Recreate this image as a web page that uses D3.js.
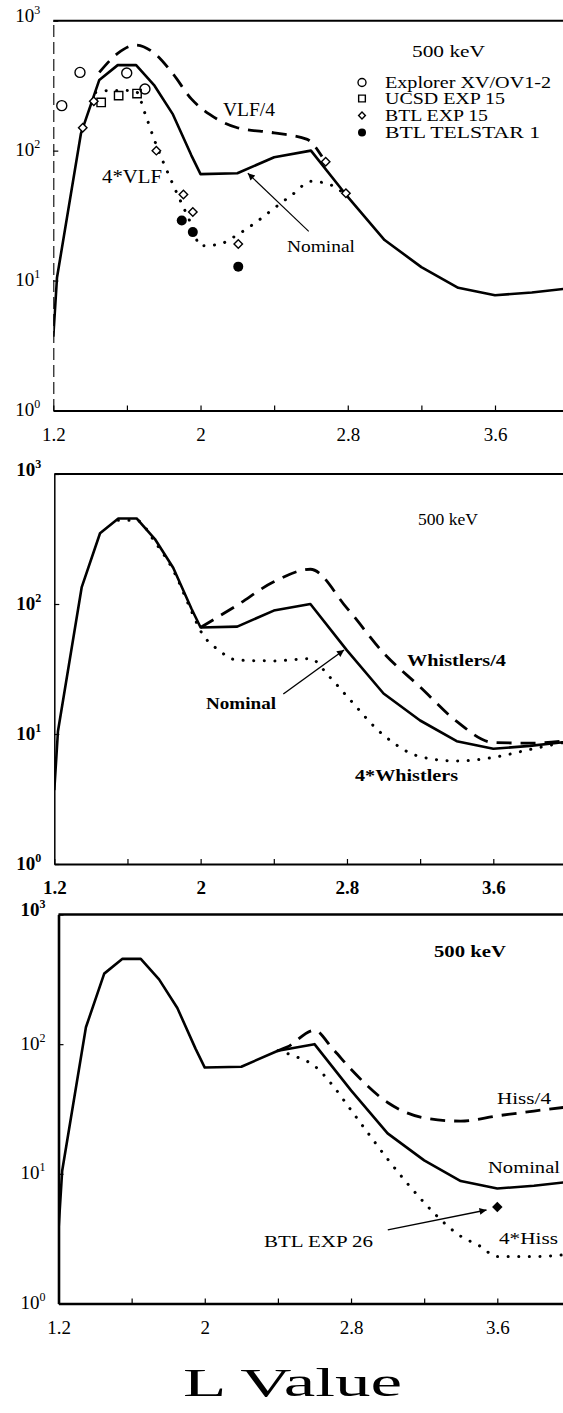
<!DOCTYPE html>
<html>
<head>
<meta charset="utf-8">
<script src="https://cdn.jsdelivr.net/npm/d3@7/dist/d3.min.js"></script>
<style>
  body { margin: 0; background: #fff; }
  svg { display: block; font-family: 'Liberation Serif', 'DejaVu Serif', serif; }
</style>
</head>
<body>
<div class="graph"></div>
<script>
// ---- data (L value, flux) ----
const X_TICKS = [1.2, 1.6, 2.0, 2.4, 2.8, 3.2, 3.6, 4.0];
const X_TICK_LABELS = ['1.2', '2', '2.8', '3.6'];
const Y_TICKS = [1, 10, 100, 1000];
const Y_EXPONENTS = ['0', '1', '2', '3'];

const L_NOM = [1.2, 1.22, 1.35, 1.45, 1.55, 1.65, 1.75, 1.85, 1.95, 2.0, 2.2, 2.4, 2.6, 2.8, 3.0, 3.2, 3.4, 3.6, 3.8, 4.0];
const NOMINAL = [3.7, 10.5, 135, 350, 455, 455, 316, 190, 92, 66, 67, 89, 100, 44, 20.5, 12.7, 8.8, 7.7, 8.1, 8.7];

const L_VLF4 = [1.45, 1.55, 1.65, 1.75, 1.85, 1.95, 2.05, 2.2, 2.4, 2.58, 2.66];
const VLF_DIV4 = [400, 560, 650, 560, 390, 250, 190, 150, 137, 122, 90];

const L_4VLF = [1.43, 1.5, 1.6, 1.65, 1.7, 1.75, 1.85, 1.95, 2.0, 2.1, 2.2, 2.3, 2.4, 2.5, 2.6, 2.7, 2.8];
const VLF_X4 = [280, 290, 290, 285, 190, 120, 55, 27, 18.5, 19, 22.5, 28, 36, 46, 58, 55, 44];

const L_WH4 = [2.0, 2.2, 2.4, 2.6, 2.8, 3.0, 3.2, 3.4, 3.6, 3.8, 4.0];
const WHISTLERS_DIV4 = [66, 98, 148, 185, 93, 42, 23, 12.5, 8.6, 8.5, 8.9];

const L_4WH = [1.55, 1.65, 1.75, 1.85, 1.95, 2.0, 2.1, 2.2, 2.4, 2.6, 2.7, 2.8, 3.0, 3.2, 3.4, 3.6, 3.8, 4.0];
const WHISTLERS_X4 = [440, 440, 300, 182, 88, 62, 44, 37, 36.5, 38, 28, 19.5, 9.8, 6.7, 6.2, 6.6, 7.6, 8.7];

const L_HISS4 = [2.4, 2.45, 2.6, 2.7, 2.8, 3.0, 3.2, 3.4, 3.6, 3.8, 4.0];
const HISS_DIV4 = [89, 95, 128, 92, 64, 35.5, 27, 25.5, 28, 30.5, 33];

const L_4HISS = [2.4, 2.5, 2.6, 2.7, 2.8, 2.9, 3.0, 3.1, 3.2, 3.3, 3.4, 3.5, 3.6, 3.8, 4.0];
const HISS_X4 = [89, 80, 68, 48, 31, 20, 13, 8.7, 6.0, 4.3, 3.3, 2.8, 2.3, 2.3, 2.4];

// measurements (panel 1) and BTL EXP 26 (panel 3)
const EXPLORER_L = [1.246, 1.345, 1.599, 1.698];
const EXPLORER_V = [222, 400, 396, 298];
const UCSD_L = [1.46, 1.555, 1.655];
const UCSD_V = [235, 265, 275];
const BTL15_L = [1.36, 1.42, 1.76, 1.907, 1.958, 2.205, 2.68, 2.79];
const BTL15_V = [150, 240, 100, 46, 33.7, 19.1, 82, 47];
const TELSTAR_L = [1.898, 1.958, 2.205];
const TELSTAR_V = [29, 23.6, 12.8];
const BTL26_L = [3.6];
const BTL26_V = [5.55];

const LEGEND_NAMES = ['Explorer XV/OV1-2', 'UCSD EXP 15', 'BTL EXP 15', 'BTL TELSTAR 1'];

// ---- layout ----
const W = 563;
const H = 1413;

const svg = d3.select('.graph')
  .append('svg')
  .attr('width', W)
  .attr('height', H);

const defs = svg.append('defs');
defs.append('marker')
  .attr('id', 'arrow')
  .attr('viewBox', '0 0 10 10')
  .attr('refX', 10)
  .attr('refY', 5)
  .attr('markerWidth', 10)
  .attr('markerHeight', 7)
  .attr('markerUnits', 'userSpaceOnUse')
  .attr('orient', 'auto')
  .append('path')
  .attr('d', 'M0,0L10,5L0,10Z')
  .attr('fill', '#000');

const styles = {
  solid: { dash: null, width: 2.6, cap: 'butt', curve: d3.curveLinear },
  dashed: { dash: '15,9', width: 2.8, cap: 'butt', curve: d3.curveMonotoneX },
  dotted: { dash: '0.1,10.5', width: 3, cap: 'round', curve: d3.curveMonotoneX }
};

const panels = [
  {
    top: 20.7, bottom: 410.5, left: 53.3, x36: 495,
    axisStyle: { leftDash: '12,5', leftWidth: 1.1, frameWidth: 2 },
    weight: 'normal',
    lines: [
      { L: L_VLF4, v: VLF_DIV4, style: 'dashed' },
      { L: L_4VLF, v: VLF_X4, style: 'dotted' },
      { L: L_NOM, v: NOMINAL, style: 'solid' }
    ],
    texts: [
      { t: '500 keV', x: 412, y: 57, size: 17, w: 73 },
      { t: 'VLF/4', x: 223, y: 116, size: 18, w: 52 },
      { t: '4*VLF', x: 102, y: 183, size: 18, w: 60 },
      { t: 'Nominal', x: 287, y: 252, size: 17, w: 68 }
    ],
    arrows: [{ from: [2.588, 23.9], to: [2.257, 67], width: 1.1 }],
    legend: true
  },
  {
    top: 474, bottom: 864, left: 54.3, x36: 493.3,
    axisStyle: { leftDash: null, leftWidth: 1.5, frameWidth: 2 },
    weight: 'bold',
    lines: [
      { L: L_WH4, v: WHISTLERS_DIV4, style: 'dashed' },
      { L: L_4WH, v: WHISTLERS_X4, style: 'dotted' },
      { L: L_NOM, v: NOMINAL, style: 'solid' }
    ],
    texts: [
      { t: '500 keV', x: 418, y: 525, size: 17, w: 60, weight: 'normal' },
      { t: 'Whistlers/4', x: 407, y: 666, size: 17, w: 99 },
      { t: 'Nominal', x: 206, y: 709, size: 17, w: 70 },
      { t: '4*Whistlers', x: 355, y: 781, size: 17, w: 103 }
    ],
    arrows: [{ from: [2.452, 20.3], to: [2.784, 44.3], width: 1.4 }],
    legend: false
  },
  {
    top: 914.5, bottom: 1303.5, left: 58.5, x36: 497.3,
    axisStyle: { leftDash: null, leftWidth: 2.6, frameWidth: 2.6 },
    weight: 'normal',
    lines: [
      { L: L_HISS4, v: HISS_DIV4, style: 'dashed' },
      { L: L_4HISS, v: HISS_X4, style: 'dotted' },
      { L: L_NOM, v: NOMINAL, style: 'solid' }
    ],
    texts: [
      { t: '500 keV', x: 434, y: 957, size: 17, w: 72, weight: 'bold' },
      { t: 'Hiss/4', x: 497, y: 1104, size: 17, w: 54 },
      { t: 'Nominal', x: 488, y: 1173, size: 17, w: 72 },
      { t: '4*Hiss', x: 499, y: 1244, size: 17, w: 59 },
      { t: 'BTL EXP 26', x: 264, y: 1247, size: 17, w: 109 }
    ],
    arrows: [{ from: [3.001, 3.7], to: [3.541, 5.26], width: 1.4 }],
    legend: false
  }
];

function addText(g, d, weight) {
  const t = g.append('text')
    .attr('x', d.x)
    .attr('y', d.y)
    .attr('font-size', d.size)
    .attr('font-weight', d.weight || weight)
    .text(d.t);
  if (d.w) {
    t.attr('textLength', d.w).attr('lengthAdjust', 'spacingAndGlyphs');
  }
  return t;
}

function diamond(size) {
  return d3.symbol(d3.symbolSquare, size)();
}

panels.forEach((p, i) => {
  const xEnd = p.left + (p.x36 - p.left) * (4.0 - 1.2) / (3.6 - 1.2);
  const x = d3.scaleLinear().domain([1.2, 4.0]).range([p.left, xEnd]);
  const y = d3.scaleLog().domain([1, 1000]).range([p.bottom, p.top]);
  const g = svg.append('g');

  defs.append('clipPath')
    .attr('id', `clip${i}`)
    .append('rect')
    .attr('x', p.left)
    .attr('y', p.top)
    .attr('width', W - p.left)
    .attr('height', p.bottom - p.top);

  // bottom axis, ticks point inward
  const xAxis = g.append('g')
    .attr('transform', `translate(0, ${p.bottom})`)
    .call(d3.axisBottom(x)
      .tickValues(X_TICKS)
      .tickSize(-5)
      .tickSizeOuter(0)
      .tickPadding(17)
      .tickFormat((d) => X_TICK_LABELS.includes(String(d)) ? String(d) : ''));
  xAxis.select('.domain').attr('stroke-width', p.axisStyle.frameWidth);
  xAxis.selectAll('.tick line').attr('stroke-width', 1.2);
  xAxis.selectAll('.tick text')
    .attr('font-size', 19)
    .attr('font-family', 'Liberation Serif, serif')
    .attr('font-weight', p.weight);

  // left axis
  const yAxis = g.append('g')
    .attr('transform', `translate(${p.left}, 0)`)
    .call(d3.axisLeft(y)
      .tickValues(Y_TICKS)
      .tickSize(-5)
      .tickSizeOuter(0)
      .tickFormat(''));
  yAxis.select('.domain')
    .attr('stroke-width', p.axisStyle.leftWidth)
    .attr('stroke-dasharray', p.axisStyle.leftDash);
  yAxis.selectAll('.tick line').attr('stroke-width', 1.2);

  yAxis.selectAll('.tick')
    .append('text')
    .attr('x', -13)
    .attr('y', (d) => d === 1000 ? 1 : 5)
    .attr('text-anchor', 'end')
    .attr('fill', '#000')
    .attr('font-size', 19)
    .attr('font-family', 'Liberation Serif, serif')
    .attr('font-weight', (d) => (p.weight === 'bold' || (i === 2 && d === 1000)) ? 'bold' : 'normal')
    .each(function (d) {
      const t = d3.select(this);
      t.append('tspan').text('10');
      t.append('tspan')
        .attr('font-size', 12)
        .attr('dy', -8)
        .text(Y_EXPONENTS[Y_TICKS.indexOf(d)]);
    });

  // top frame line
  g.append('line')
    .attr('x1', p.left)
    .attr('x2', W)
    .attr('y1', p.top)
    .attr('y2', p.top)
    .attr('stroke', '#000')
    .attr('stroke-width', p.axisStyle.frameWidth);

  // curves
  const plot = g.append('g').attr('clip-path', `url(#clip${i})`);
  p.lines.forEach((ln) => {
    const s = styles[ln.style];
    const line = d3.line()
      .x((d) => x(d[0]))
      .y((d) => y(d[1]))
      .curve(s.curve);
    plot.append('path')
      .datum(d3.zip(ln.L, ln.v))
      .attr('d', line)
      .attr('fill', 'none')
      .attr('stroke', '#000')
      .attr('stroke-width', s.width)
      .attr('stroke-linecap', s.cap)
      .attr('stroke-linejoin', 'round')
      .attr('stroke-dasharray', s.dash);
  });

  // annotations
  p.texts.forEach((d) => addText(g, d, p.weight));
  p.arrows.forEach((a) => {
    g.append('line')
      .attr('x1', x(a.from[0]))
      .attr('y1', y(a.from[1]))
      .attr('x2', x(a.to[0]))
      .attr('y2', y(a.to[1]))
      .attr('stroke', '#000')
      .attr('stroke-width', a.width)
      .attr('marker-end', 'url(#arrow)');
  });

  if (i === 0) {
    const sets = [
      { L: EXPLORER_L, v: EXPLORER_V, kind: 'circle' },
      { L: UCSD_L, v: UCSD_V, kind: 'square' },
      { L: BTL15_L, v: BTL15_V, kind: 'diamond' },
      { L: TELSTAR_L, v: TELSTAR_V, kind: 'dot' }
    ];
    const drawMarker = (sel, kind, scale) => {
      if (kind === 'circle') {
        sel.append('circle').attr('r', 5 * scale).attr('fill', '#fff').attr('stroke', '#000').attr('stroke-width', 1.4);
      } else if (kind === 'square') {
        sel.append('path').attr('d', d3.symbol(d3.symbolSquare, 70 * scale * scale)()).attr('fill', 'none').attr('stroke', '#000').attr('stroke-width', 1.4);
      } else if (kind === 'diamond') {
        sel.append('path').attr('d', diamond(36 * scale * scale)).attr('transform', 'rotate(45)').attr('fill', '#fff').attr('stroke', '#000').attr('stroke-width', 1.4);
      } else {
        sel.append('circle').attr('r', 5 * scale).attr('fill', '#000');
      }
    };
    sets.forEach((s) => {
      g.selectAll(null)
        .data(d3.zip(s.L, s.v))
        .enter()
        .append('g')
        .attr('transform', (d) => `translate(${x(d[0])}, ${y(d[1])})`)
        .each(function () { drawMarker(d3.select(this), s.kind, 1); });
    });

    // legend
    const rows = [88, 104, 121, 138];
    const widths = [166, 120, 103, 155];
    sets.forEach((s, k) => {
      const m = g.append('g').attr('transform', `translate(362, ${rows[k] - 5.5})`);
      drawMarker(m, s.kind, 0.8);
      addText(g, { t: LEGEND_NAMES[k], x: 385, y: rows[k], size: 16, w: widths[k] }, 'normal');
    });
  }

  if (i === 2) {
    g.selectAll(null)
      .data(d3.zip(BTL26_L, BTL26_V))
      .enter()
      .append('path')
      .attr('d', diamond(55))
      .attr('transform', (d) => `translate(${x(d[0])}, ${y(d[1])}) rotate(45)`)
      .attr('fill', '#000');
  }
});

// shared x-axis title
svg.append('text')
  .attr('x', 183)
  .attr('y', 1396)
  .attr('font-size', 40)
  .attr('textLength', 219)
  .attr('lengthAdjust', 'spacingAndGlyphs')
  .text('L Value');
</script>
</body>
</html>
